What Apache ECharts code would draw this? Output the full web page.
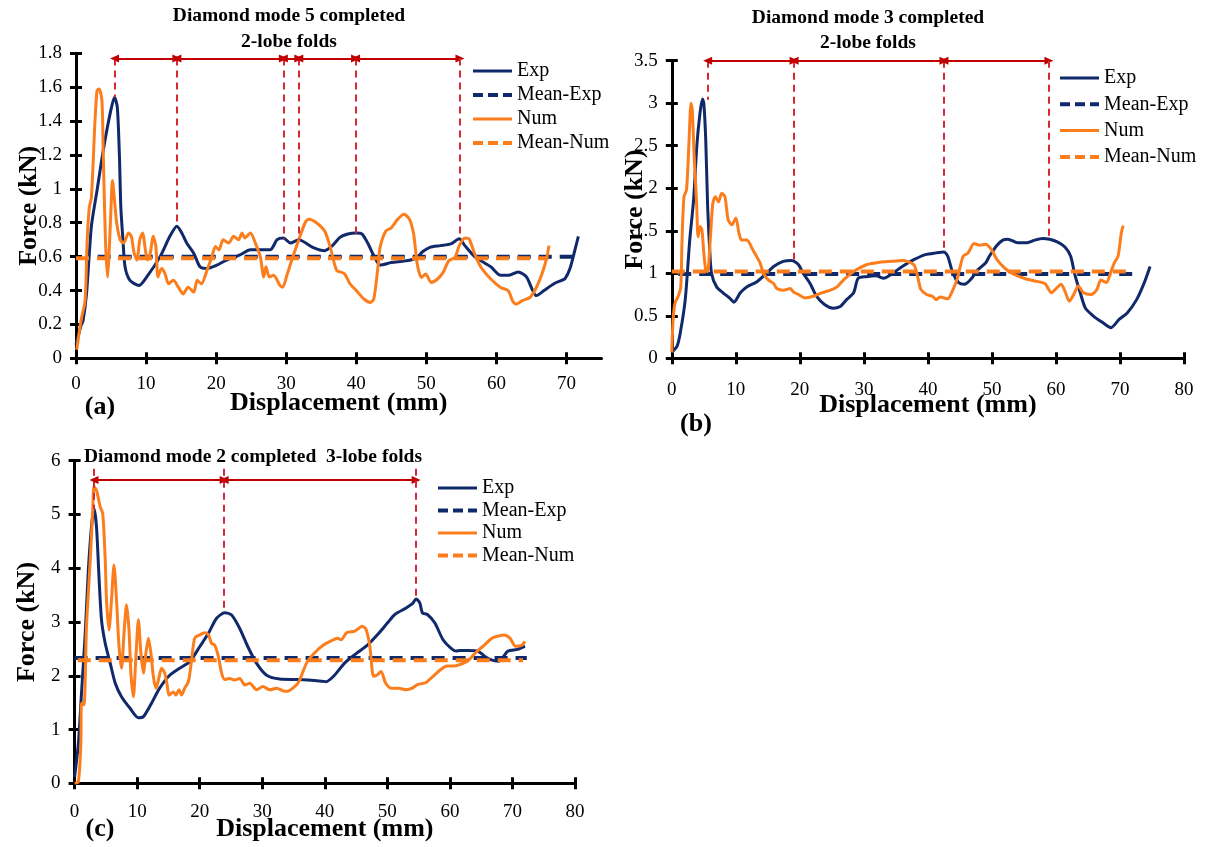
<!DOCTYPE html>
<html>
<head>
<meta charset="utf-8">
<script src="https://cdn.jsdelivr.net/npm/echarts@6/dist/echarts.min.js"></script>
<style>
  html, body { margin: 0; padding: 0; background: #ffffff; }
  #chart { width: 1205px; height: 847px; }
</style>
</head>
<body>
<div id="chart"></div>
<script>
// ---------- Panel (a): Diamond mode 5, 2-lobe folds ----------
const expA = [
  [0,0.08],[0.7,0.19],[1.0,0.22],[1.5,0.38],[2.2,0.78],[3.0,0.99],[3.9,1.23],[4.9,1.45],[5.5,1.54],
  [5.9,1.48],[6.2,1.19],[6.4,0.89],[6.7,0.70],[7.0,0.54],[7.7,0.46],[9.0,0.43],[10.1,0.48],[12.0,0.60],
  [13.4,0.72],[14.4,0.78],[15.1,0.74],[15.8,0.68],[16.8,0.62],[17.7,0.54],[18.7,0.53],[20.1,0.55],
  [21.5,0.58],[23.4,0.61],[24.9,0.64],[27.7,0.64],[28.7,0.70],[29.6,0.71],[30.6,0.68],[31.8,0.70],
  [33.8,0.655],[35.5,0.635],[36.6,0.665],[37.7,0.715],[38.8,0.734],[40.0,0.74],[40.8,0.734],[41.7,0.675],
  [42.5,0.606],[43.4,0.55],[45.0,0.565],[47.0,0.575],[48.5,0.59],[49.5,0.63],[50.5,0.655],[52.0,0.665],
  [53.5,0.675],[54.7,0.705],[55.5,0.665],[56.9,0.60],[59.2,0.54],[60.6,0.49],[61.7,0.49],[63.1,0.51],
  [64.3,0.48],[65.7,0.37],[66.8,0.40],[68.2,0.44],[69.3,0.46],[69.8,0.47],[70.5,0.53],[71.3,0.655],[71.7,0.72]
];
const numA = [
  [0.1,0.05],[0.5,0.165],[0.8,0.24],[1.3,0.34],[1.6,0.70],[1.9,0.89],[2.2,0.95],[2.7,1.39],[3.0,1.58],
  [3.3,1.59],[3.7,1.52],[3.9,1.19],[4.2,0.70],[4.5,0.48],[4.7,0.60],[5.0,0.89],[5.2,1.05],[5.5,0.93],
  [5.8,0.80],[6.3,0.70],[6.8,0.68],[7.5,0.74],[7.9,0.72],[8.3,0.62],[8.7,0.58],[9.1,0.70],[9.5,0.74],
  [9.9,0.64],[10.2,0.58],[10.6,0.62],[11.0,0.72],[11.4,0.66],[11.7,0.48],[12.2,0.53],[12.7,0.50],
  [13.2,0.44],[13.9,0.46],[14.6,0.42],[15.3,0.38],[16.0,0.42],[16.8,0.39],[17.3,0.46],[17.9,0.44],
  [18.7,0.52],[19.4,0.60],[19.9,0.66],[20.4,0.64],[21.0,0.70],[21.8,0.68],[22.5,0.72],[23.2,0.70],
  [23.7,0.74],[24.1,0.71],[24.9,0.74],[25.6,0.68],[26.3,0.60],[26.8,0.48],[27.1,0.54],[27.6,0.48],
  [28.2,0.49],[29.1,0.43],[29.5,0.42],[30.1,0.49],[30.8,0.58],[31.8,0.70],[32.7,0.80],[33.2,0.82],
  [34.3,0.80],[35.5,0.75],[36.3,0.655],[37.2,0.52],[38.3,0.50],[39.1,0.44],[40.0,0.40],[41.1,0.35],
  [42.0,0.33],[42.5,0.35],[43.1,0.54],[43.4,0.655],[44.2,0.75],[45.0,0.77],[45.9,0.82],[46.8,0.85],
  [47.6,0.82],[48.2,0.73],[48.7,0.556],[49.3,0.477],[49.9,0.497],[50.7,0.448],[51.6,0.468],[52.4,0.507],
  [53.2,0.576],[54.1,0.596],[54.7,0.665],[55.5,0.71],[56.1,0.705],[56.9,0.616],[57.8,0.537],[59.2,0.468],
  [60.6,0.418],[61.7,0.399],[62.3,0.34],[62.8,0.32],[63.7,0.34],[64.8,0.36],[65.7,0.418],[66.5,0.497],
  [67.2,0.596],[67.5,0.665]
];
const meanExpA = 0.60, meanExpSpanA = [3.1, 71.9];
const meanNumA = 0.59, meanNumSpanA = [0, 67.4];
const foldXA = [5.5, 14.4, 29.6, 31.8, 39.9, 54.8];
const foldBaseA = [1.54, 0.78, 0.70, 0.70, 0.73, 0.705];
const foldArrowA = 1.77;
const xTicksA = [0, 10, 20, 30, 40, 50, 60, 70];

// ---------- Panel (b): Diamond mode 3, 2-lobe folds ----------
const expB = [
  [0,0.07],[0.8,0.14],[1.3,0.29],[2.1,0.69],[2.8,1.39],[3.4,1.86],[3.9,2.49],[4.4,2.88],[4.8,3.05],
  [5.0,3.00],[5.3,2.57],[5.6,1.78],[5.9,1.31],[6.2,1.00],[7.0,0.84],[8.0,0.77],[9.0,0.71],[9.7,0.66],
  [10.7,0.77],[11.7,0.84],[13.3,0.90],[14.8,1.00],[15.9,1.08],[17.4,1.14],[18.7,1.15],[19.8,1.10],
  [20.5,1.00],[21.6,0.88],[22.6,0.73],[23.9,0.63],[25.2,0.59],[26.3,0.61],[27.3,0.69],[28.4,0.77],
  [29.1,0.94],[30.4,0.96],[31.9,0.97],[33.1,0.94],[34.5,1.00],[36.0,1.08],[37.8,1.16],[39.6,1.22],
  [41.3,1.24],[42.5,1.25],[43.1,1.20],[43.9,1.00],[44.8,0.89],[45.7,0.87],[46.6,0.92],[47.8,1.04],
  [49.0,1.12],[49.6,1.20],[50.8,1.33],[51.7,1.39],[52.5,1.40],[54.0,1.36],[55.5,1.36],[56.7,1.39],
  [57.9,1.41],[59.0,1.40],[60.2,1.37],[61.4,1.31],[62.3,1.20],[62.9,1.00],[63.8,0.77],[64.6,0.59],
  [65.8,0.50],[67.3,0.42],[68.6,0.36],[69.9,0.46],[71.1,0.53],[72.6,0.69],[73.8,0.89],[74.7,1.08]
];
const numB = [
  [0,0.07],[0.2,0.45],[0.5,0.65],[1.0,0.73],[1.4,0.84],[1.6,1.39],[1.9,1.90],[2.3,1.98],[2.7,2.57],
  [3.0,3.00],[3.2,2.92],[3.5,2.37],[3.9,1.78],[4.1,1.43],[4.4,1.55],[4.7,1.51],[5.0,1.24],[5.3,1.04],
  [5.6,1.02],[6.0,1.39],[6.4,1.82],[6.8,1.90],[7.3,1.84],[7.8,1.94],[8.3,1.90],[8.8,1.63],[9.4,1.57],
  [10.0,1.65],[10.5,1.47],[10.9,1.39],[11.7,1.39],[12.7,1.27],[13.8,1.12],[14.3,1.00],[15.1,0.92],
  [15.9,0.88],[16.4,0.82],[17.4,0.80],[18.5,0.82],[19.0,0.78],[19.8,0.75],[20.8,0.71],[22.1,0.73],
  [23.4,0.77],[24.7,0.80],[25.8,0.84],[26.8,0.92],[28.4,1.02],[30.4,1.10],[32.5,1.13],[34.5,1.14],
  [36.0,1.15],[37.8,1.10],[38.4,0.96],[38.9,0.81],[39.8,0.75],[40.7,0.73],[41.3,0.69],[41.9,0.72],
  [43.1,0.70],[43.7,0.77],[44.6,0.94],[45.5,1.20],[46.3,1.24],[47.2,1.35],[48.1,1.33],[49.0,1.34],
  [49.9,1.28],[50.8,1.16],[52.0,1.06],[53.1,1.00],[54.3,0.96],[55.5,0.93],[56.7,0.91],[57.9,0.89],
  [58.4,0.87],[59.3,0.77],[59.9,0.81],[60.8,0.87],[61.4,0.79],[62.1,0.67],[62.9,0.77],[63.5,0.85],
  [64.3,0.77],[65.5,0.75],[66.4,0.81],[67.0,0.92],[67.9,0.89],[68.5,1.00],[69.1,1.12],[69.7,1.20],
  [70.2,1.47],[70.5,1.56]
];
const meanExpB = 0.99, meanExpSpanB = [1.0, 72.9];
const meanNumB = 1.02, meanNumSpanB = [0, 71.1];
const foldXB = [5.6, 19.1, 42.5, 58.9];
const foldBaseB = [3.04, 1.16, 1.25, 1.40];
const foldArrowB = 3.5;

// ---------- Panel (c): Diamond mode 2, 3-lobe folds ----------
const expC = [
  [0,0.12],[0.6,0.74],[1.1,1.67],[1.7,2.79],[2.2,3.97],[2.7,4.77],[3.1,5.11],[3.5,4.77],[3.9,3.84],
  [4.3,3.04],[4.9,2.60],[5.7,2.23],[6.5,1.86],[7.5,1.61],[8.9,1.39],[10.2,1.22],[11.0,1.24],[12.3,1.49],
  [13.6,1.77],[15.2,2.01],[16.8,2.14],[18.4,2.26],[20.0,2.54],[21.4,2.79],[22.7,3.07],[24.0,3.17],
  [25.1,3.13],[26.4,2.88],[27.7,2.54],[29.1,2.23],[30.7,2.01],[32.8,1.94],[35.9,1.93],[39.5,1.90],
  [40.2,1.89],[41.4,1.99],[43.2,2.24],[45.1,2.42],[46.9,2.58],[48.7,2.80],[50.0,2.98],[51.2,3.14],
  [53.0,3.26],[54.0,3.34],[54.6,3.43],[55.2,3.35],[55.6,3.17],[56.4,3.14],[57.6,2.98],[58.9,2.67],
  [60.1,2.52],[61.0,2.46],[61.6,2.47],[62.8,2.47],[64.4,2.46],[65.6,2.36],[66.5,2.30],[67.8,2.27],
  [68.4,2.33],[69.3,2.46],[70.8,2.49],[72.0,2.55]
];
const numC = [
  [0,0],[0.6,0.03],[1.0,0.74],[1.1,1.49],[1.5,1.46],[1.9,2.91],[2.5,4.15],[2.9,5.08],[3.1,5.52],
  [3.5,5.45],[4.1,5.14],[4.5,5.02],[4.9,4.15],[5.1,3.41],[5.5,2.85],[5.9,3.41],[6.3,4.06],[6.7,3.41],
  [7.1,2.54],[7.5,2.14],[7.9,2.79],[8.3,3.32],[8.7,2.85],[9.0,2.05],[9.4,1.61],[9.8,2.35],[10.2,3.04],
  [10.6,2.42],[11.0,2.05],[11.4,2.42],[11.8,2.70],[12.2,2.42],[12.6,1.98],[13.0,1.77],[13.4,1.92],
  [13.9,2.14],[14.4,2.05],[14.8,1.83],[15.1,1.64],[15.8,1.70],[16.2,1.64],[16.7,1.74],[17.1,1.64],
  [17.6,1.77],[18.2,1.89],[18.7,2.29],[19.2,2.70],[20.0,2.76],[20.8,2.80],[21.4,2.76],[21.9,2.60],
  [22.4,2.57],[23.0,2.35],[23.5,2.05],[24.0,1.93],[24.8,1.95],[25.6,1.92],[26.4,1.95],[27.2,1.83],
  [28.0,1.86],[29.1,1.74],[30.1,1.80],[31.2,1.74],[32.3,1.77],[33.3,1.72],[34.0,1.71],[35.3,1.81],
  [35.9,1.90],[37.1,2.24],[38.3,2.42],[39.9,2.58],[41.4,2.67],[42.0,2.70],[42.6,2.67],[43.5,2.80],
  [44.8,2.83],[46.0,2.92],[46.6,2.86],[47.2,2.55],[47.8,1.99],[48.4,2.02],[49.0,2.08],[49.7,1.87],
  [50.6,1.77],[51.8,1.77],[53.0,1.74],[54.0,1.77],[54.9,1.84],[56.1,1.87],[57.3,1.99],[58.6,2.12],
  [59.5,2.18],[60.7,2.18],[61.6,2.21],[62.8,2.27],[63.8,2.39],[64.7,2.49],[65.6,2.58],[66.5,2.68],
  [67.4,2.73],[68.7,2.76],[69.6,2.70],[70.5,2.55],[71.4,2.56],[72.0,2.64]
];
const meanExpC = 2.33, meanExpSpanC = [0, 72.3];
const meanNumC = 2.29, meanNumSpanC = [0.5, 71.7];
const foldXC = [3.1, 23.9, 54.6];
const foldBaseC = [5.1, 3.18, 3.43];
const foldArrowC = 5.64;
const foldTopC = 5.85;

const legendNames = ['Exp', 'Mean-Exp', 'Num', 'Mean-Num'];

// ---------- styling ----------
const SERIF = "'Liberation Serif', 'Times New Roman', serif";
const NAVY = '#10296a';
const ORANGE = '#fb7d1c';
const RED_DASH = '#d52a33';
const RED_ARROW = '#c00000';

// grid boxes in pixels
const panels = [
  { box: { left: 76, top: 53.3, width: 525.5, height: 305 }, xMax: 75, yMax: 1.8, yStep: 0.2,
    xLabelMargin: 16, xNameGap: 32, yLabelMargin: 14, yNameGap: 34, xTicks: xTicksA },
  { box: { left: 671.8, top: 60.7, width: 512.2, height: 297.6 }, xMax: 80, yMax: 3.5, yStep: 0.5,
    xLabelMargin: 22, xNameGap: 34, yLabelMargin: 14, yNameGap: 24, xTicks: null },
  { box: { left: 74.6, top: 460.7, width: 500.4, height: 322.6 }, xMax: 80, yMax: 6, yStep: 1,
    xLabelMargin: 19, xNameGap: 33, yLabelMargin: 14, yNameGap: 34, xTicks: null }
];

const grid = [], xAxis = [], yAxis = [];
panels.forEach((p, i) => {
  grid.push(Object.assign({ containLabel: false }, p.box));
  const tickStyle = { show: true, length: 6, lineStyle: { color: '#000', width: 3 } };
  // main x axis: line, labels, outward ticks
  xAxis.push({
    type: 'value', gridIndex: i, position: 'bottom', min: 0, max: p.xMax, interval: 10,
    axisLine: { show: true, onZero: false, lineStyle: { color: '#000', width: 3 } },
    axisTick: Object.assign({ inside: false }, tickStyle, p.xTicks ? { customValues: p.xTicks } : {}),
    axisLabel: Object.assign({ color: '#000', fontFamily: SERIF, fontSize: 19, margin: p.xLabelMargin },
      p.xTicks ? { customValues: p.xTicks } : {}),
    splitLine: { show: false },
    name: 'Displacement (mm)', nameLocation: 'middle', nameGap: p.xNameGap, nameMoveOverlap: false,
    nameTextStyle: { color: '#000', fontFamily: SERIF, fontSize: 26, fontWeight: 'bold' }
  });
  // companion x axis drawn on the same line, its ticks pointing into the plot
  xAxis.push({
    type: 'value', gridIndex: i, position: 'top', offset: -p.box.height, min: 0, max: p.xMax, interval: 10,
    axisLine: { show: false, onZero: false },
    axisTick: Object.assign({ inside: false }, tickStyle, p.xTicks ? { customValues: p.xTicks } : {}),
    axisLabel: { show: false }, splitLine: { show: false }
  });
  yAxis.push({
    type: 'value', gridIndex: i, position: 'left', min: 0, max: p.yMax, interval: p.yStep,
    axisLine: { show: true, onZero: false, lineStyle: { color: '#000', width: 3 } },
    axisTick: Object.assign({ inside: false }, tickStyle),
    axisLabel: { color: '#000', fontFamily: SERIF, fontSize: 19, margin: p.yLabelMargin },
    splitLine: { show: false },
    name: 'Force (kN)', nameLocation: 'middle', nameRotate: 90, nameGap: p.yNameGap, nameMoveOverlap: false,
    nameTextStyle: { color: '#000', fontFamily: SERIF, fontSize: 26, fontWeight: 'bold' }
  });
  yAxis.push({
    type: 'value', gridIndex: i, position: 'right', offset: -p.box.width, min: 0, max: p.yMax, interval: p.yStep,
    axisLine: { show: false, onZero: false },
    axisTick: Object.assign({ inside: false }, tickStyle),
    axisLabel: { show: false }, splitLine: { show: false }
  });
});

function foldMarks(foldX, foldBase, foldTop, arrowY) {
  const items = [];
  foldX.forEach((x, k) => {
    const top = foldTop == null ? arrowY : foldTop;
    items.push([
      { coord: [x, top], symbol: 'none', lineStyle: { color: RED_DASH, width: 2, type: [7, 5] } },
      { coord: [x, foldBase[k]], symbol: 'none' }
    ]);
    if (k < foldX.length - 1) {
      items.push([
        { coord: [x, arrowY], symbol: 'triangle', symbolSize: [8, 9], lineStyle: { color: RED_ARROW, width: 2, type: 'solid' } },
        { coord: [foldX[k + 1], arrowY], symbol: 'triangle', symbolSize: [8, 9] }
      ]);
    }
  });
  return {
    silent: true, animation: false, symbol: ['none', 'none'],
    label: { show: false }, emphasis: { disabled: true },
    itemStyle: { color: RED_ARROW },
    data: items
  };
}

function panelSeries(i, exp, num, mE, mESpan, mN, mNSpan, marks) {
  const base = { type: 'line', xAxisIndex: 2 * i, yAxisIndex: 2 * i, symbol: 'none', showSymbol: false,
    animation: false, emphasis: { disabled: true } };
  return [
    Object.assign({}, base, { name: 'Exp', data: exp, smooth: 0.25,
      lineStyle: { color: NAVY, width: 3 }, itemStyle: { color: NAVY } }),
    Object.assign({}, base, { name: 'Mean-Exp', data: [[mESpan[0], mE], [mESpan[1], mE]],
      lineStyle: { color: NAVY, width: 4, type: [13, 8] }, itemStyle: { color: NAVY } }),
    Object.assign({}, base, { name: 'Num', data: num, smooth: 0.25,
      lineStyle: { color: ORANGE, width: 3 }, itemStyle: { color: ORANGE } }),
    Object.assign({}, base, { name: 'Mean-Num', data: [[mNSpan[0], mN], [mNSpan[1], mN]],
      lineStyle: { color: ORANGE, width: 4, type: [13, 8] }, itemStyle: { color: ORANGE },
      markLine: marks })
  ];
}

const series = [].concat(
  panelSeries(0, expA, numA, meanExpA, meanExpSpanA, meanNumA, meanNumSpanA,
    foldMarks(foldXA, foldBaseA, null, foldArrowA)),
  panelSeries(1, expB, numB, meanExpB, meanExpSpanB, meanNumB, meanNumSpanB,
    foldMarks(foldXB, foldBaseB, null, foldArrowB)),
  panelSeries(2, expC, numC, meanExpC, meanExpSpanC, meanNumC, meanNumSpanC,
    foldMarks(foldXC, foldBaseC, foldTopC, foldArrowC))
);

// legend keys: solid keys for the curves, dashed keys for the means
const legendKeys = legendNames.map(name => ({
  name: name,
  lineStyle: name.indexOf('Mean') === 0 ? { width: 4, type: [10, 5] } : { width: 3, type: 'solid' }
}));

function legendAt(left, top, gap) {
  return {
    data: legendKeys, orient: 'vertical', left: left, top: top, itemWidth: 39, itemHeight: 14,
    itemGap: gap, selectedMode: false, padding: 0,
    itemStyle: { opacity: 0 },
    textStyle: { color: '#000', fontFamily: SERIF, fontSize: 20, lineHeight: 20 }
  };
}

function label(x, y, text, size, align) {
  return { type: 'text', x: x, y: y, silent: true,
    style: { text: text, fill: '#000', font: 'bold ' + size + 'px ' + SERIF,
      textAlign: align || 'center', textVerticalAlign: 'middle' } };
}

const option = {
  backgroundColor: '#ffffff',
  animation: false,
  grid: grid, xAxis: xAxis, yAxis: yAxis, series: series,
  legend: [legendAt(471, 61, 4), legendAt(1058, 68, 6.3), legendAt(436, 478, 2.5)],
  graphic: [
    label(289, 16, 'Diamond mode 5 completed', 19.5),
    label(289, 42, '2-lobe folds', 19.5),
    label(868, 18, 'Diamond mode 3 completed', 19.5),
    label(868, 43, '2-lobe folds', 19.5),
    label(84, 457, 'Diamond mode 2 completed  3-lobe folds', 19.5, 'left'),
    label(100, 407, '(a)', 26),
    label(696, 424, '(b)', 26),
    label(100, 829, '(c)', 26)
  ]
};

const chart = echarts.init(document.getElementById('chart'), null, { renderer: 'canvas' });
chart.setOption(option);
</script>
</body>
</html>
